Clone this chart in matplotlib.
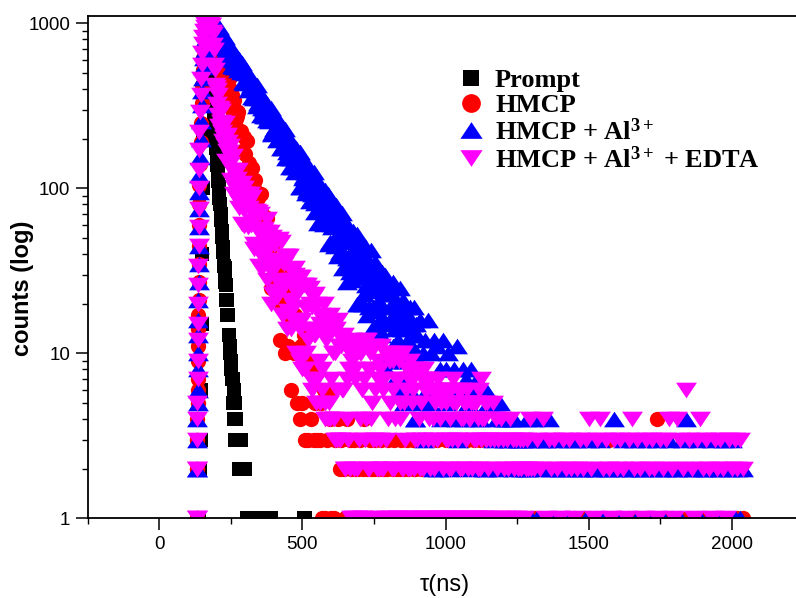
import numpy as np
import matplotlib.pyplot as plt
from matplotlib.path import Path
from matplotlib.lines import Line2D
from matplotlib.ticker import MultipleLocator, LogLocator, NullFormatter

plt.rcParams['font.family'] = ['Liberation Sans', 'DejaVu Sans']
plt.rcParams['mathtext.fontset'] = 'custom'
plt.rcParams['mathtext.rm'] = 'Liberation Serif:bold'
plt.rcParams['mathtext.bf'] = 'Liberation Serif:bold'
plt.rcParams['mathtext.it'] = 'Liberation Serif:bold:italic'

# === time channels (ns): 0.5 ns on the rise, 2 ns round the peak, 5 ns in the decay, 10 ns in the tail ===
t_rise = np.arange(130.0, 140.0, 0.5)
t_peak = np.arange(140, 270, 2)
t_decay = np.arange(270, 1305, 5)
t_tail = np.arange(1310, 2050, 10)
t = np.concatenate([t_rise, t_peak, t_decay, t_tail])
# the two Al3+ runs were read at 2.5 ns through their long decays
t_al = np.concatenate([t_rise, t_peak, np.arange(270, 900, 2.5), np.arange(900, 1305, 5), t_tail])
t_edta = np.concatenate([t_rise, t_peak, np.arange(270, 1150, 2.5), np.arange(1150, 1305, 5), t_tail])

# === counts (0 = empty channel, not drawn on the log axis) ===
prompt = [
    0, 0, 0, 0, 0, 0, 0, 0, 0, 0,
    0, 0, 0, 0, 0, 0, 0, 0, 0, 0,
    # 140-268 ns
    1, 2, 3, 6, 15, 40, 100, 220, 420, 680,
    900, 1020, 1060, 1040, 1000, 890, 800, 705, 635, 560,
    505, 445, 400, 350, 320, 280, 252, 222, 202, 176,
    160, 139, 128, 110, 102, 87, 80, 70, 64, 55,
    51, 44, 41, 34, 33, 27, 26, 21, 21, 17,
    17, 13, 13, 10, 11, 8, 9, 7, 7, 5,
    6, 4, 5, 3, 4,
    # 270-510 ns
    3, 3, 2, 3, 2, 2, 2,
    1, 1, 1, 1, 1, 1, 1, 1, 1, 1, 1, 1, 1, 1, 1, 1, 1, 1,
    0, 0, 0, 0, 0, 0, 0, 0, 0, 0, 0, 0, 0, 0, 0, 0, 0, 0, 0, 0, 0, 0,
    1, 1,
]

hmcp = [
    1, 1, 2, 2, 3, 3, 4, 5, 6, 7,
    9, 11, 14, 17, 21, 27, 35, 45, 60, 80,
    # 140-268 ns
    105, 140, 190, 250, 330, 420, 520, 620, 720, 810,
    880, 940, 990, 1020, 1040, 1040, 1030, 1010, 990, 975,
    930, 1016, 844, 930, 869, 921, 794, 828, 732, 818,
    740, 815, 684, 716, 601, 703, 621, 656, 545, 592,
    536, 603, 467, 535, 487, 529, 431, 459, 386, 457,
    398, 459, 364, 394, 310, 392, 335, 366, 286, 325,
    288, 342, 243, 298, 264,
    # 270-1300 ns
    273, 291, 214, 223, 169, 204, 161, 194, 130, 143, 92, 133, 100, 112, 71, 87, 67, 92, 44, 68,
    52, 66, 36, 45, 25, 45, 29, 48, 22, 31, 12, 32, 19, 26, 10, 19, 11, 24, 6, 16,
    10, 17, 5, 10, 4, 11, 5, 13, 3, 8, 3, 9, 4, 8, 3, 5, 3, 8, 3, 5,
    1, 6, 1, 3, 0, 4, 1, 6, 1, 3, 0, 4, 2, 3, 0, 2, 1, 4, 0, 3,
    2, 1, 3, 2, 0, 2, 3, 1, 2, 4, 1, 2, 0, 3, 2, 1, 2, 3, 1, 2,
    0, 3, 2, 1, 2, 2, 3, 0, 1, 2, 3, 1, 2, 0, 2, 3, 1, 2, 1, 3,
    2, 0, 1, 3, 2, 2, 1, 3, 0, 2, 1, 2, 3, 1, 2, 0, 3, 2, 1, 2,
    3, 1, 2, 0, 2, 1, 3, 2, 1, 2, 0, 3, 1, 2, 2, 1, 3, 0, 2, 1,
    2, 3, 1, 2, 0, 1, 3, 2, 2, 1, 3, 0, 2, 1, 2, 3, 1, 0, 2, 2,
    1, 3, 2, 0, 2, 1, 3, 1, 2, 2, 0, 3, 1, 2, 1, 3, 2, 0, 1, 2,
    3, 1, 2, 0, 2, 3, 1,
    # 1310-2040 ns
    1, 2, 1, 3, 2, 1, 2, 3, 1, 2,
    2, 1, 3, 2, 1, 2, 3, 1, 2, 1,
    2, 3, 1, 2, 2, 1, 3, 2, 1, 2,
    1, 2, 3, 1, 2, 3, 1, 2, 2, 1,
    3, 2, 1, 4, 2, 1, 3, 2, 1, 2,
    2, 1, 3, 2, 1, 2, 3, 1, 2, 2,
    1, 3, 2, 1, 2, 3, 1, 2, 1, 2,
    3, 1, 2, 1,
]

hmcp_al = [
    1, 1, 1, 2, 2, 3, 4, 5, 6, 8,
    10, 13, 16, 21, 27, 35, 45, 58, 75, 95,
    # 140-268 ns
    120, 155, 200, 255, 320, 390, 465, 540, 615, 690,
    760, 820, 870, 910, 945, 970, 990, 1005, 1015, 1020,
    1069, 953, 1021, 962, 1067, 893, 995, 938, 1003, 876,
    920, 831, 925, 851, 946, 812, 861, 742, 867, 788,
    835, 727, 784, 731, 821, 667, 758, 708, 767, 656,
    697, 619, 705, 642, 728, 610, 655, 552, 666, 596,
    640, 546, 599, 552, 634,
    # 270-897.5 ns (2.5 ns)
    623, 544, 520, 611, 559, 532, 505, 547, 571, 442, 437, 524, 502, 451, 455, 463, 492, 397, 401, 480,
    424, 399, 359, 428, 418, 353, 365, 388, 422, 314, 331, 351, 357, 378, 280, 305, 354, 325, 302, 274,
    328, 274, 258, 326, 290, 272, 255, 286, 305, 215, 213, 277, 262, 228, 232, 240, 263, 196, 200, 257,
    220, 203, 175, 225, 220, 175, 185, 203, 228, 152, 165, 182, 187, 203, 134, 153, 189, 170, 153, 134,
    174, 136, 126, 175, 151, 140, 129, 152, 166, 102, 102, 148, 139, 115, 119, 125, 142, 94, 98, 141,
    115, 103, 84, 121, 118, 86, 93, 107, 126, 72, 82, 95, 100, 112, 62, 77, 103, 89, 78, 65,
    94, 67, 61, 98, 80, 72, 64, 82, 92, 46, 47, 81, 74, 58, 61, 66, 78, 45, 48, 79,
    60, 52, 39, 66, 64, 41, 47, 57, 71, 33, 40, 50, 53, 62, 27, 38, 57, 48, 40, 31,
    52, 33, 28, 55, 43, 37, 32, 45, 53, 20, 20, 45, 41, 29, 31, 35, 44, 20, 23, 45,
    32, 26, 17, 37, 36, 19, 24, 31, 42, 14, 19, 26, 29, 36, 12, 18, 32, 26, 20, 14,
    29, 16, 13, 31, 23, 19, 16, 25, 30, 8, 9, 26, 23, 15, 16, 19, 25, 9, 11, 27,
    17, 14, 7, 21, 20, 9, 12, 18, 25, 6, 10, 14, 16, 21, 5, 9, 19, 15, 11, 7,
    17, 8, 6, 19, 13, 11, 8, 15, 19, 4, 4, 15,
    # 900-1300 ns (5 ns)
    13, 9, 16, 5, 10, 3, 12, 6, 16, 5, 10, 2, 12, 6,
    11, 2, 8, 4, 12, 1, 8, 5, 10, 2, 6, 1, 8, 4, 11, 3, 6, 0, 8, 4,
    7, 1, 5, 2, 8, 0, 6, 4, 7, 1, 4, 0, 6, 2, 6, 2, 5, 0, 5, 3,
    5, 1, 4, 2, 5, 0, 4, 3, 4, 1, 3, 0, 4, 2, 4, 1, 3, 0, 3, 2,
    3, 1, 2, 4, 2, 3, 1,
    # 1310-2040 ns
    4, 1, 3, 2, 3, 4,
    2, 1, 3, 2, 2, 1, 3, 2, 1, 3,
    2, 2, 1, 3, 2, 1, 2, 3, 1, 2,
    2, 1, 4, 2, 1, 3, 2, 1, 2, 3,
    1, 2, 2, 3, 1, 2, 1, 3, 2, 1,
    2, 3, 1, 2, 2, 1, 3, 4, 2, 1,
    2, 3, 1, 2, 2, 1, 3, 2, 1, 2,
    3, 1, 2, 3, 1, 2, 1, 2,
]

hmcp_al_edta = [
    1, 1, 2, 2, 3, 4, 5, 7, 9, 12,
    15, 20, 26, 34, 45, 58, 75, 100, 130, 170,
    # 140-268 ns
    220, 290, 370, 460, 560, 660, 750, 830, 900, 950,
    990, 1020, 1040, 1050, 1055, 1050, 1045, 1035, 1025, 1010,
    980, 975, 890, 860, 740, 690, 560, 520, 425, 410,
    395, 325, 370, 280, 305, 238, 302, 254, 293, 220,
    242, 194, 241, 204, 250, 182, 206, 147, 210, 169,
    190, 141, 166, 141, 181, 112, 152, 129, 156, 107,
    124, 92, 127, 101, 126,
    # 270-1147.5 ns (2.5 ns)
    96, 114, 129, 76, 83, 98, 100, 108, 61, 75, 101, 59, 76, 92, 92, 79, 58, 60, 76, 93,
    60, 63, 88, 73, 43, 46, 70, 73, 56, 57, 72, 34, 42, 70, 54, 45, 33, 54, 57, 37,
    40, 54, 65, 28, 34, 45, 47, 54, 20, 31, 51, 23, 34, 46, 46, 37, 22, 24, 36, 49,
    26, 28, 47, 36, 17, 17, 35, 39, 26, 27, 39, 14, 18, 39, 27, 21, 14, 28, 31, 16,
    19, 30, 33, 10, 15, 23, 25, 29, 9, 14, 29, 8, 16, 26, 26, 19, 8, 10, 19, 26,
    12, 14, 25, 20, 7, 6, 19, 22, 13, 13, 23, 5, 7, 20, 14, 9, 5, 15, 17, 6,
    8, 16, 20, 5, 4, 12, 13, 15, 4, 5, 17, 4, 7, 14, 15, 10, 4, 3, 10, 14,
    3, 6, 16, 11, 3, 3, 11, 12, 6, 6, 13, 2, 2, 11, 7, 4, 3, 8, 10, 2,
    1, 9, 12, 1, 2, 7, 8, 11, 1, 2, 11, 3, 4, 10, 10, 6, 1, 1, 7, 12,
    3, 4, 12, 8, 2, 2, 8, 10, 4, 5, 11, 3, 1, 11, 6, 3, 2, 7, 9, 2,
    3, 8, 11, 2, 2, 6, 7, 10, 1, 3, 10, 1, 4, 9, 9, 5, 1, 2, 6, 9,
    2, 4, 10, 7, 1, 1, 7, 9, 4, 5, 10, 2, 2, 10, 5, 3, 1, 6, 8, 1,
    2, 7, 9, 2, 1, 5, 6, 7, 2, 3, 8, 1, 3, 8, 8, 4, 1, 2, 5, 7,
    2, 3, 8, 6, 1, 1, 6, 7, 3, 4, 7, 2, 1, 6, 4, 3, 2, 5, 6, 1,
    3, 6, 7, 1, 1, 4, 5, 6, 1, 2, 6, 1, 3, 5, 6, 3, 1, 2, 4, 6,
    2, 3, 7, 5, 1, 1, 5, 5, 3, 3, 6, 1, 2, 6, 4, 2, 1, 4, 5, 1,
    3, 5, 6, 1, 2, 4, 4, 5, 1, 2, 5, 1, 3, 5, 5, 3, 1, 2, 4, 6,
    2, 3, 7, 4, 1, 1, 4, 5, 3, 3, 5, 1,
    # 1150-1300 ns (5 ns)
    2, 3, 1, 5,
    3, 4, 2, 3, 1, 4, 3, 2, 1, 3, 2, 4, 1, 3, 2, 3, 1, 2, 3, 2,
    3, 1, 2, 3, 2, 4, 2,
    # 1310-2040 ns
    2, 3, 2, 4, 1, 3,
    2, 3, 2, 1, 3, 2, 3, 2, 1, 2,
    3, 2, 3, 4, 2, 1, 3, 4, 2, 3,
    2, 1, 3, 2, 3, 2, 1, 3, 4, 2,
    3, 2, 1, 3, 2, 3, 2, 1, 3, 2,
    3, 4, 2, 1, 4, 3, 2, 6, 3, 2,
    1, 3, 4, 2, 3, 2, 1, 3, 2, 3,
    2, 1, 3, 2, 3, 2, 3, 2,
]

labels = ['Prompt', 'HMCP', r'HMCP + Al$^{3+}$', r'HMCP + Al$^{3+}$ + EDTA']
colors = ['#000000', '#ff0000', '#0000ff', '#ff00ff']

# Origin-style wide triangles
tri_up = Path([(0, 0.75), (-1, -0.75), (1, -0.75), (0, 0.75)],
              [Path.MOVETO, Path.LINETO, Path.LINETO, Path.CLOSEPOLY])
tri_dn = Path([(0, -0.75), (-1, 0.75), (1, 0.75), (0, -0.75)],
              [Path.MOVETO, Path.LINETO, Path.LINETO, Path.CLOSEPOLY])
markers = ['s', 'o', tri_up, tri_dn]
sizes = [9.6, 11.0, 15.0, 15.0]


def masked(counts):
    c = np.array(counts, dtype=float)
    c[c <= 0] = np.nan
    return c


fig = plt.figure(figsize=(7.96, 5.98), dpi=100)
ax = fig.add_axes([87.75 / 796, 79.7 / 598, 715.5 / 796, 501.8 / 598])

series = [(t, prompt), (t, hmcp), (t_al, hmcp_al), (t_edta, hmcp_al_edta)]
for (tt, counts), m, ms, col in zip(series, markers, sizes, colors):
    y = masked(counts)
    ax.plot(tt[:len(y)], y, ls='none', marker=m, ms=ms, color=col, mec=col, mew=0)

ax.set_yscale('log')
ax.set_xlim(-250, 2250)
ax.set_ylim(1, 1100)

ax.set_xticks([0, 500, 1000, 1500, 2000])
ax.xaxis.set_minor_locator(MultipleLocator(250))
ax.set_yticks([1, 10, 100, 1000])
ax.set_yticklabels(['1', '10', '100', '1000'])
ax.yaxis.set_minor_locator(LogLocator(base=10, subs=np.arange(2, 10)))
ax.yaxis.set_minor_formatter(NullFormatter())

ax.tick_params(which='major', direction='out', length=8.5, width=1.1, labelsize=13.5, pad=4,
               top=False, right=False)
ax.tick_params(which='minor', direction='out', length=4.5, width=1.0, top=False, right=False)
for s in ['left', 'bottom', 'top']:
    ax.spines[s].set_linewidth(1.3)
ax.spines['right'].set_visible(False)

fig.text(23 / 796, 1 - 288 / 598, 'counts (log)', rotation=90, fontsize=17, fontweight='bold',
         ha='center', va='center')
fig.text(445 / 796, 1 - 585 / 598, 'τ(ns)', fontsize=17, ha='center', va='center')

handles = [Line2D([], [], ls='none', marker=m, ms=s, color=c, mew=0)
           for m, s, c in zip(markers, [12.0, 13.5, 16.0, 16.0], colors)]
ax.legend(handles, labels, loc='upper left', bbox_to_anchor=(457.8 / 796, 1 - 68.5 / 598),
          bbox_transform=fig.transFigure, frameon=False, numpoints=1,
          prop={'family': 'Liberation Serif', 'weight': 'bold', 'size': 19},
          handlelength=1.0, handletextpad=0.41, labelspacing=0.05,
          borderpad=0, borderaxespad=0)

fig.savefig('out.png', dpi=100)
